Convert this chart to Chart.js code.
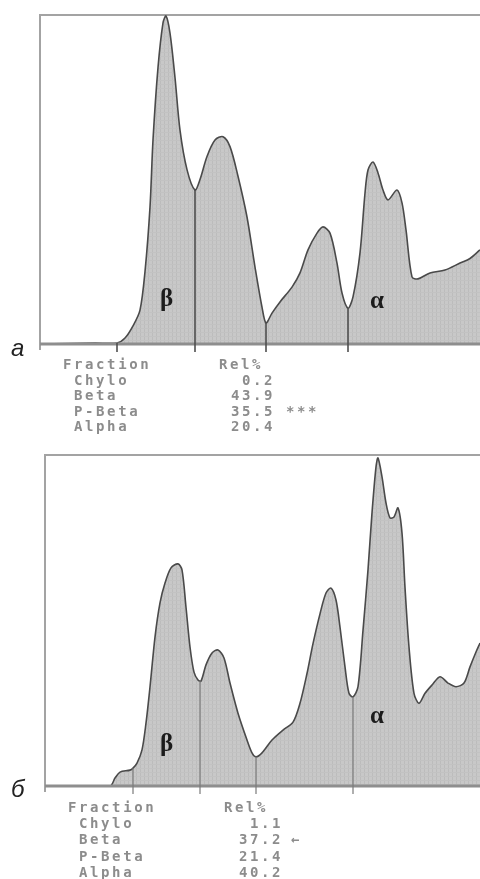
<!DOCTYPE html>
<html>
<head>
<meta charset="utf-8">
<script src="https://cdn.jsdelivr.net/npm/chart.js@4.4.1/dist/chart.umd.min.js"></script>
<style>
  body { margin: 0; width: 480px; height: 879px; overflow: hidden; background: #fff; position: relative; }
  canvas { position: absolute; left: 0; }
  .lbl { position: absolute; font-family: "Liberation Serif", serif; font-weight: bold; font-size: 25px; color: #1c1c1c; line-height: 25px; }
  .panel { position: absolute; font-family: "Liberation Sans", sans-serif; font-style: italic; font-size: 24px; color: #222; line-height: 24px; }
  .tbl { position: absolute; font-family: "DejaVu Sans Mono", monospace; font-weight: bold; font-size: 14px; letter-spacing: 2.6px; color: #8c8c8c; white-space: pre; }
</style>
</head>
<body>
<canvas id="chartA" width="490" height="360" style="top:0px"></canvas>
<canvas id="chartB" width="490" height="360" style="top:440px"></canvas>

<div class="panel" style="left:11px; top:336px">а</div>
<div class="panel" style="left:11px; top:777px">б</div>
<div class="lbl" style="left:160px; top:285px">β</div>
<div class="lbl" style="left:370px; top:287px">α</div>
<div class="lbl" style="left:160px; top:730px">β</div>
<div class="lbl" style="left:370px; top:702px">α</div>

<div id="tableA"></div>
<div id="tableB"></div>

<script>
// densitometry scans: x = track position, y = relative optical density (0..100)
const scanA_x = [0, 55, 77, 85, 93, 100, 105, 110, 113, 118, 123, 126, 130, 135, 140, 147, 155, 160, 167, 175, 183, 190, 198, 207, 215, 222, 226, 232, 240, 252, 260, 268, 277, 283, 290, 297, 302, 308, 313, 320, 325, 328, 333, 338, 343, 348, 357, 362, 366, 372, 378, 390, 405, 420, 430, 440];
const scanA_y = [0, 0.3, 0.3, 1.8, 5.5, 10.3, 22, 41.6, 62, 84, 97.6, 99.7, 94.5, 81, 65, 53, 46.8, 50, 57, 62, 63, 60, 51, 38.6, 23.4, 11.2, 6.4, 9.4, 12.8, 17.3, 21.6, 28.6, 33.7, 35.6, 33.7, 24.6, 15.5, 10.9, 14.3, 27.7, 45.9, 52.9, 55.3, 52, 46.8, 43.8, 46.8, 42.9, 34.7, 20.4, 19.8, 21.6, 22.5, 24.6, 26, 28.6];

const scanB_x = [0, 65, 70, 75, 85, 88, 92, 97, 101, 105, 110, 115, 120, 126, 133, 137, 141, 145, 149, 153, 156, 161, 167, 173, 179, 185, 193, 202, 207, 211, 217, 227, 238, 248, 255, 262, 268, 275, 281, 286, 291, 295, 300, 304, 308, 313, 318, 323, 327, 331, 333, 337, 341, 345, 349, 353, 357, 360, 364, 369, 374, 380, 387, 395, 403, 411, 419, 425, 431, 435];
const scanB_y = [0, 0, 2.4, 4.2, 4.8, 5.4, 6.9, 10.9, 19, 29.9, 45, 55.3, 61.3, 65.9, 67.1, 65.3, 54, 42, 34.4, 32, 31.7, 36.6, 40.2, 41.1, 38.7, 31.1, 22, 13.9, 10, 8.8, 10, 13.9, 16.9, 19.3, 25, 34, 43, 52, 58.3, 59.8, 56.2, 48, 36, 28, 26.9, 30, 47, 65.3, 82.5, 96.4, 99.1, 93.4, 85.5, 81, 81.3, 84, 76.4, 60, 42, 28, 25, 28, 30.5, 33, 31.1, 30, 31.1, 36, 40.5, 43.2];

// fraction boundaries (track positions)
const dividersA = [77, 155, 226, 308];
const dividersB = [88, 155, 211, 308];

// report tables
const fractionNames = ['Chylo', 'Beta', 'P-Beta', 'Alpha'];
const relA = ['0.2', '43.9', '35.5', '20.4'];
const relB = ['1.1', '37.2', '21.4', '40.2'];
const flagsA = ['', '', '***', ''];
const flagsB = ['', '←', '', ''];

function hatch() {
  const c = document.createElement('canvas');
  c.width = 4; c.height = 4;
  const g = c.getContext('2d');
  g.fillStyle = '#c8c8c8';
  g.fillRect(0, 0, 4, 4);
  g.fillStyle = '#bcbcbc';
  g.fillRect(0, 0, 1, 4);
  g.fillStyle = '#c2c2c2';
  g.fillRect(0, 0, 4, 1);
  return g.createPattern(c, 'repeat');
}

function valueAt(xs, ys, x) {
  for (let i = 1; i < xs.length; i++) {
    if (x <= xs[i]) {
      const t = (x - xs[i - 1]) / (xs[i] - xs[i - 1]);
      return ys[i - 1] + t * (ys[i] - ys[i - 1]);
    }
  }
  return ys[ys.length - 1];
}

const framePlugin = {
  id: 'frame',
  beforeDatasetsDraw(chart) {
    const { ctx, chartArea: a } = chart;
    ctx.save();
    ctx.strokeStyle = '#a3a3a3';
    ctx.lineWidth = 2;
    ctx.beginPath();
    ctx.moveTo(a.left, a.bottom + 6);
    ctx.lineTo(a.left, a.top);
    ctx.lineTo(a.right, a.top);
    ctx.stroke();
    ctx.restore();
  },
  afterDatasetsDraw(chart, args, opts) {
    const { ctx, chartArea: a, scales } = chart;
    ctx.save();
    ctx.strokeStyle = '#8e8e8e';
    ctx.lineWidth = 3;
    ctx.beginPath();
    ctx.moveTo(a.left, a.bottom);
    ctx.lineTo(a.right, a.bottom);
    ctx.stroke();
    ctx.strokeStyle = opts.color;
    ctx.lineWidth = opts.width;
    opts.dividers.forEach(d => {
      const px = scales.x.getPixelForValue(d);
      const py = scales.y.getPixelForValue(valueAt(opts.xs, opts.ys, d));
      ctx.beginPath();
      ctx.moveTo(px, py);
      ctx.lineTo(px, a.bottom + 8);
      ctx.stroke();
    });
    ctx.restore();
  }
};

function makeScan(id, xs, ys, dividers, pad, xMax, divColor, divWidth) {
  new Chart(document.getElementById(id), {
    type: 'line',
    data: {
      datasets: [{
        data: xs.map((x, i) => ({ x: x, y: ys[i] })),
        borderColor: '#4a4a4a',
        borderWidth: 1.6,
        backgroundColor: hatch(),
        fill: 'origin',
        pointRadius: 0,
        tension: 0.3
      }]
    },
    options: {
      responsive: false,
      animation: false,
      layout: { padding: pad },
      plugins: {
        legend: { display: false },
        tooltip: { enabled: false },
        frame: { dividers: dividers, xs: xs, ys: ys, color: divColor, width: divWidth }
      },
      scales: {
        x: { type: 'linear', min: 0, max: xMax, display: false },
        y: { min: 0, max: 100, display: false }
      }
    },
    plugins: [framePlugin]
  });
}

makeScan('chartA', scanA_x, scanA_y, dividersA, { left: 40, top: 15, right: 0, bottom: 16 }, 450, '#4f4f4f', 1.6);
makeScan('chartB', scanB_x, scanB_y, dividersB, { left: 45, top: 15, right: 0, bottom: 14 }, 445, '#7a7a7a', 1.2);

function buildTable(el, o, rel, flags) {
  const host = document.getElementById(el);
  let html = '';
  html += `<div class="tbl" style="left:${o.nameX}px; top:${o.top}px; line-height:${o.lh}px">Fraction\n` +
    fractionNames.map(n => ' ' + n).join('\n') + '</div>';
  html += `<div class="tbl" style="left:${o.relX}px; top:${o.top}px; line-height:${o.lh}px">Rel%</div>`;
  html += `<div class="tbl" style="left:${o.valRight - 80}px; width:80px; text-align:right; top:${o.top + o.lh}px; line-height:${o.lh}px">` +
    rel.join('\n') + '</div>';
  html += `<div class="tbl" style="left:${o.flagX}px; top:${o.top + o.lh}px; line-height:${o.lh}px">` +
    flags.join('\n') + '</div>';
  host.innerHTML = html;
}

buildTable('tableA', { nameX: 63, relX: 219, valRight: 275, flagX: 286, top: 357.3, lh: 15.4 }, relA, flagsA);
buildTable('tableB', { nameX: 68, relX: 224, valRight: 283, flagX: 291, top: 798.9, lh: 16.2 }, relB, flagsB);
</script>
</body>
</html>
